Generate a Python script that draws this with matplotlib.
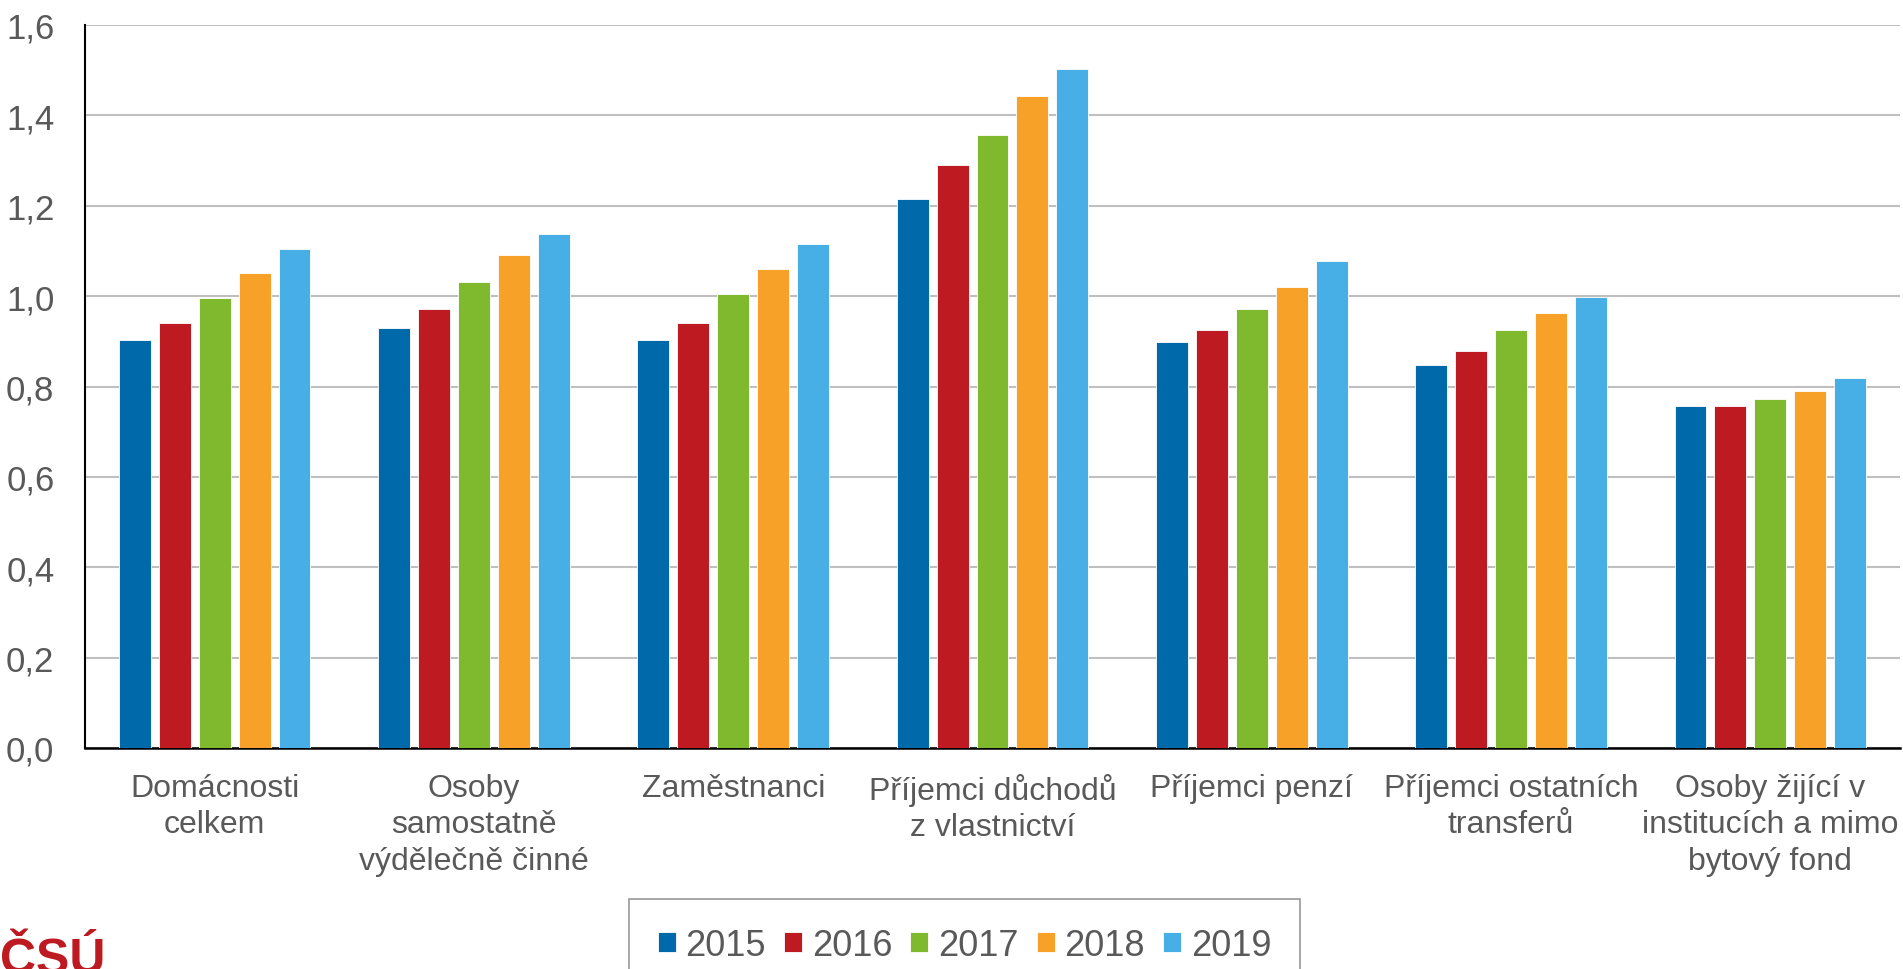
import matplotlib.pyplot as plt
import numpy as np

plt.rcParams['font.family'] = ['Liberation Sans', 'DejaVu Sans']

# categories and yearly values
categories = ['Domácnosti\ncelkem',
              'Osoby\nsamostatně\nvýdělečně činné',
              'Zaměstnanci',
              'Příjemci důchodů\nz vlastnictví',
              'Příjemci penzí',
              'Příjemci ostatních\ntransferů',
              'Osoby žijící v\ninstitucích a mimo\nbytový fond']
years = ['2015', '2016', '2017', '2018', '2019']
v2015 = [0.903, 0.929, 0.902, 1.216, 0.898, 0.848, 0.756]
v2016 = [0.940, 0.972, 0.940, 1.291, 0.926, 0.878, 0.756]
v2017 = [0.995, 1.032, 1.004, 1.357, 0.972, 0.926, 0.772]
v2018 = [1.051, 1.090, 1.061, 1.443, 1.021, 0.962, 0.790]
v2019 = [1.104, 1.138, 1.115, 1.502, 1.077, 0.999, 0.818]
series = [v2015, v2016, v2017, v2018, v2019]
colors = ['#0069AA', '#BE1A22', '#7FBA2E', '#F7A128', '#48AEE6']

grey = '#595959'

fig = plt.figure(figsize=(19.03, 9.70), dpi=100)
ax = fig.add_axes([85/1903, 1-749/970, 1815/1903, 723/970])

x = np.arange(len(categories))
step = 0.154
width = 0.123
for i, (vals, col, yr) in enumerate(zip(series, colors, years)):
    ax.bar(x + (i-2)*step, vals, width, color=col, label=yr,
           edgecolor='white', linewidth=0.6, zorder=3)

ax.set_xlim(-0.5, len(categories)-0.5)
ax.set_ylim(0, 1.6)
ticks = np.arange(0, 1.61, 0.2)
ax.set_yticks(ticks)
ax.set_yticklabels(['{:.1f}'.format(t).replace('.', ',') for t in ticks])
ax.set_xticks(x)
ax.set_xticklabels(categories, linespacing=1.28)
ax.tick_params(axis='y', length=0, pad=22, labelsize=25, labelcolor=grey)
ax.tick_params(axis='x', length=0, pad=18, labelsize=23, labelcolor=grey)
ax.yaxis.grid(True, color='#BFBFBF', linewidth=1.5, zorder=0)
ax.set_axisbelow(True)
for s in ['top', 'right']:
    ax.spines[s].set_visible(False)
ax.spines['left'].set_linewidth(1.5)
ax.spines['bottom'].set_linewidth(1.8)

leg = fig.legend(loc='upper center', bbox_to_anchor=(964.5/1903, 1-900/970),
                 ncol=5, fontsize=26, frameon=True, fancybox=False,
                 handlelength=0.5, handleheight=0.5, handletextpad=0.27,
                 columnspacing=0.5, borderpad=0.8, borderaxespad=0,
                 labelcolor=grey)
leg.get_frame().set_edgecolor('#7F7F7F')
leg.get_frame().set_linewidth(1.2)

# CSU logo text, cut at the bottom edge
fig.text(0.0, -0.004, 'ČSÚ', color='#BE1A22', fontsize=36, fontweight='bold',
         ha='left', va='baseline')

fig.savefig('out.png', dpi=100)
